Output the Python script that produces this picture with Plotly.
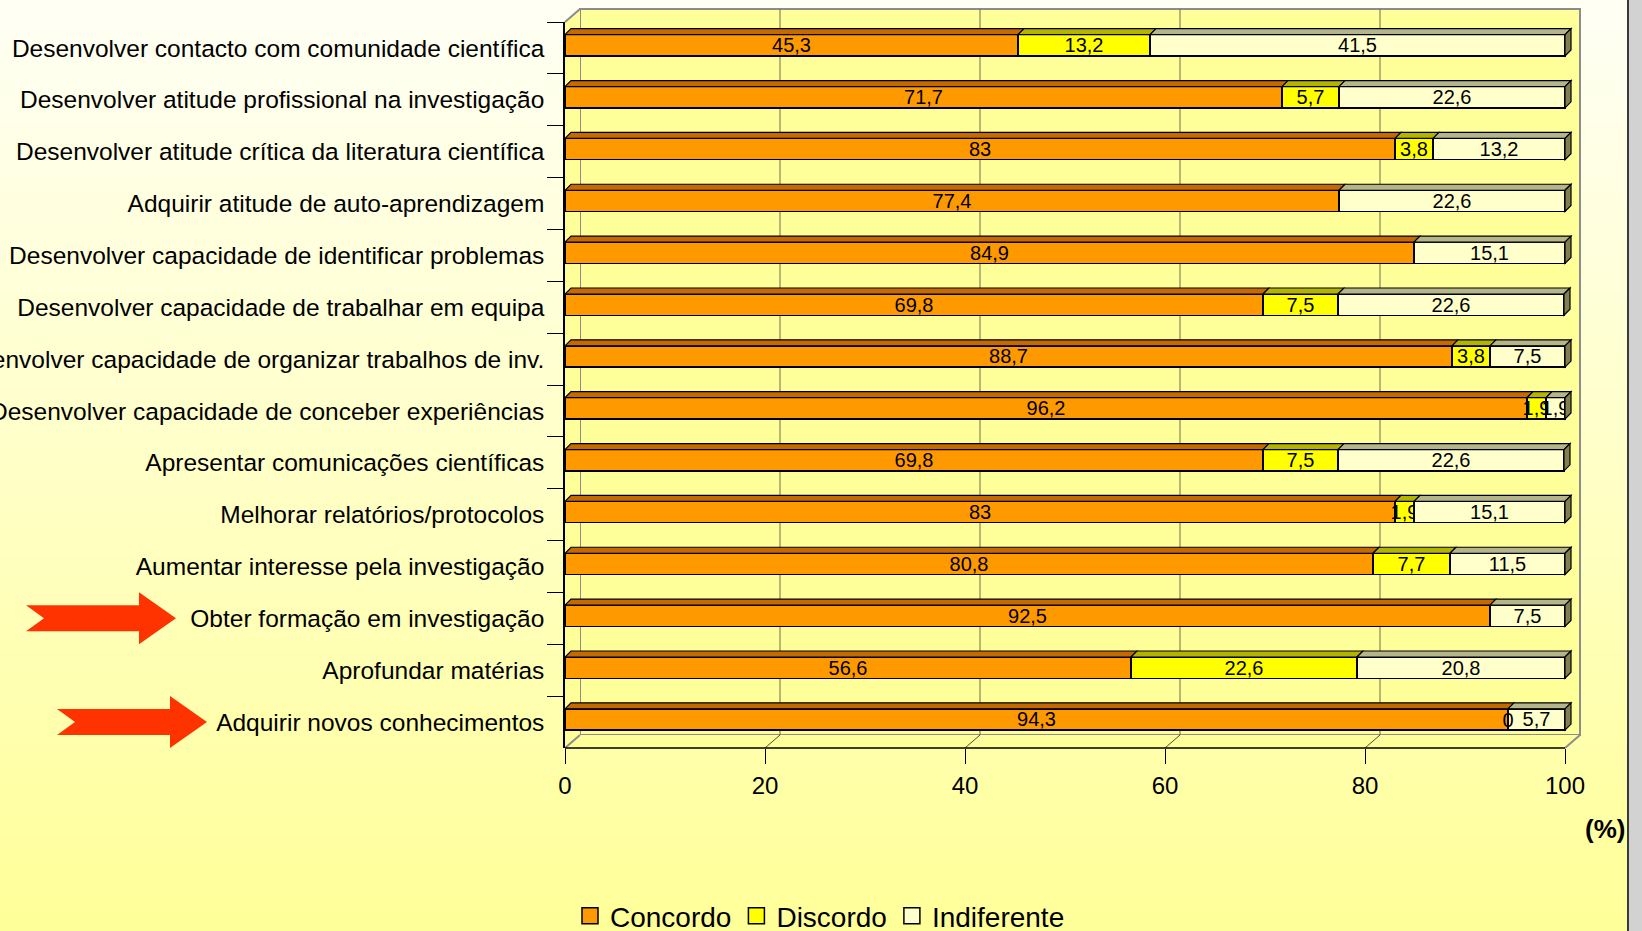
import plotly.graph_objects as go

# ---------------- data ----------------
categories = [
    "Desenvolver contacto com comunidade científica",
    "Desenvolver atitude profissional na investigação",
    "Desenvolver atitude crítica da literatura científica",
    "Adquirir atitude de auto-aprendizagem",
    "Desenvolver capacidade de identificar problemas",
    "Desenvolver capacidade de trabalhar em equipa",
    "Desenvolver capacidade de organizar trabalhos de inv.",
    "Desenvolver capacidade de conceber experiências",
    "Apresentar comunicações científicas",
    "Melhorar relatórios/protocolos",
    "Aumentar interesse pela investigação",
    "Obter formação em investigação",
    "Aprofundar matérias",
    "Adquirir novos conhecimentos",
]
concordo = [45.3, 71.7, 83, 77.4, 84.9, 69.8, 88.7, 96.2, 69.8, 83, 80.8, 92.5, 56.6, 94.3]
discordo = [13.2, 5.7, 3.8, None, None, 7.5, 3.8, 1.9, 7.5, 1.9, 7.7, None, 22.6, 0]
indiferente = [41.5, 22.6, 13.2, 22.6, 15.1, 22.6, 7.5, 1.9, 22.6, 15.1, 11.5, 7.5, 20.8, 5.7]
series_names = ["Concordo", "Discordo", "Indiferente"]
x_ticks = [0, 20, 40, 60, 80, 100]
highlighted = ["Obter formação em investigação", "Adquirir novos conhecimentos"]
axis_unit = "(%)"

# ---------------- style ----------------
FONT = "Liberation Sans, Arial, sans-serif"
front_colors = ["#FF9900", "#FFFF00", "#FFFFCC"]
top_colors = ["#C46A00", "#B3B300", "#B5B58C"]
side_colors = ["#8C4A00", "#808000", "#7F7F52"]

W, H = 1642, 931
ML, MR, MT, MB = 565, 67, 22, 183
PW, PH = W - ML - MR, H - MT - MB
BOTTOM = H - MB


def px(X):
    return (X - ML) / PW


def py(Y):
    return (BOTTOM - Y) / PH


def fmt(v):
    return "" if v is None else f"{v:g}".replace(".", ",")


BAR_W = 0.41
BAR_OFF = -0.255
DX = 0.6      # depth in x data units (6 px)
DY = 0.116    # depth in category units (6 px)

series = [concordo, discordo, indiferente]

fig = go.Figure()
for name, vals, col in zip(series_names, series, front_colors):
    fig.add_trace(go.Bar(
        y=categories, x=vals, orientation="h", name=name,
        marker=dict(color=col, line=dict(color="black", width=1.5)),
        width=BAR_W, offset=BAR_OFF, showlegend=False, legendgroup=name,
        text=[fmt(v) for v in vals], textposition="inside",
        insidetextanchor="middle", textangle=0, constraintext="none",
        textfont=dict(family=FONT, size=20, color="black"),
        hoverinfo="skip",
    ))

# labels of zero-width segments (plotly does not draw text for empty bars)
zx, zy, zt = [], [], []
for i, cat in enumerate(categories):
    base = 0.0
    for vals in series:
        v = vals[i]
        if v == 0 and v is not None:
            zx.append(base)
            zy.append(cat)
            zt.append(fmt(v))
        base += v or 0
fig.add_trace(go.Scatter(x=zx, y=zy, mode="text", text=zt, showlegend=False,
                         textposition="middle center", hoverinfo="skip",
                         textfont=dict(family=FONT, size=20, color="black")))

# legend entries (square swatches)
for name, col in zip(series_names, front_colors):
    fig.add_trace(go.Scatter(x=[None], y=[None], mode="markers", name=name,
                             legendgroup=name,
                             marker=dict(symbol="square", size=16, color=col,
                                         line=dict(color="black", width=1.5))))

shapes = []

# background gradient
N = 60
for k in range(N):
    y0 = H * k / N
    y1 = H * (k + 1) / N + 1
    t = (k + 0.5) / N
    b = int(round(245 - t * 92))
    shapes.append(dict(type="rect", xref="paper", yref="paper", layer="below",
                       x0=px(0), x1=px(1628), y0=py(y1), y1=py(y0 - 1),
                       fillcolor=f"rgb(255,255,{b})", line=dict(width=0)))
# right grey strip
shapes.append(dict(type="rect", xref="paper", yref="paper", layer="below",
                   x0=px(1628), x1=px(1650), y0=py(H + 2), y1=py(-2),
                   fillcolor="#D2D2D2", line=dict(color="#3A3A3A", width=2)))

# 3D walls
FX0, FX1, FY0, FY1 = ML, ML + 1000, MT, BOTTOM   # front plane
OX, OY = 15, 13                                   # depth offset (px)
shapes.append(dict(type="rect", xref="paper", yref="paper", layer="below",
                   x0=px(FX0 + OX), x1=px(FX1 + OX), y0=py(FY1 - OY), y1=py(FY0 - OY),
                   fillcolor="#FFFF99", line=dict(color="#8C8C8C", width=2)))
shapes.append(dict(type="path", xref="paper", yref="paper", layer="below",
                   path=f"M{px(FX0)},{py(FY0)} L{px(FX0+OX)},{py(FY0-OY)} L{px(FX0+OX)},{py(FY1-OY)} L{px(FX0)},{py(FY1)} Z",
                   fillcolor="#FFFF99", line=dict(width=0)))
shapes.append(dict(type="path", xref="paper", yref="paper", layer="below",
                   path=f"M{px(FX0)},{py(FY1)} L{px(FX0+OX)},{py(FY1-OY)} L{px(FX1+OX)},{py(FY1-OY)} L{px(FX1)},{py(FY1)} Z",
                   fillcolor="#FFFF99", line=dict(width=0)))
for (xa, ya) in [(FX0, FY0), (FX0, FY1), (FX1, FY1)]:
    shapes.append(dict(type="line", xref="paper", yref="paper", layer="below",
                       x0=px(xa), y0=py(ya), x1=px(xa + OX), y1=py(ya - OY),
                       line=dict(color="#8C8C8C", width=2)))
for v in x_ticks[1:-1]:
    X = FX0 + 10 * v
    shapes.append(dict(type="line", xref="paper", yref="paper", layer="below",
                       x0=px(X + OX), x1=px(X + OX), y0=py(FY1 - OY), y1=py(FY0 - OY),
                       line=dict(color="#6E6E4E", width=1)))
    shapes.append(dict(type="line", xref="paper", yref="paper", layer="below",
                       x0=px(X), y0=py(FY1), x1=px(X + OX), y1=py(FY1 - OY),
                       line=dict(color="#4A4A30", width=1)))

# front bottom axis line
shapes.append(dict(type="line", xref="x", yref="paper", layer="above",
                   x0=x_ticks[0], x1=x_ticks[-1], y0=0, y1=0,
                   line=dict(color="black", width=1.5)))

# 3D faces of bars (top faces + right end face), from the data
for i in range(len(categories)):
    base = 0.0
    last = None
    yt = i + BAR_OFF
    yb = i + BAR_OFF + BAR_W
    for s, vals in enumerate(series):
        v = vals[i]
        if not v:
            continue
        x0, x1 = base, base + v
        shapes.append(dict(type="path", xref="x", yref="y", layer="above",
                           path=f"M{x0},{yt} L{x0+DX},{yt-DY} L{x1+DX},{yt-DY} L{x1},{yt} Z",
                           fillcolor=top_colors[s], line=dict(color="black", width=1.2)))
        base = x1
        last = s
    if last is not None:
        shapes.append(dict(type="path", xref="x", yref="y", layer="above",
                           path=f"M{base},{yt} L{base+DX},{yt-DY} L{base+DX},{yb-DY} L{base},{yb} Z",
                           fillcolor=side_colors[last], line=dict(color="black", width=1.2)))

# red arrows pointing to highlighted categories
n = len(categories)
for cat, tail in zip(highlighted, [26, 57]):
    idx = categories.index(cat)
    yc = (n - 0.5 - idx) / n
    bh, hh = 13 / PH, 26 / PH
    notch, hb, tip = tail + 18, tail + 113, tail + 150
    path = (f"M{px(tail)},{yc+bh} L{px(hb)},{yc+bh} L{px(hb)},{yc+hh} L{px(tip)},{yc} "
            f"L{px(hb)},{yc-hh} L{px(hb)},{yc-bh} L{px(tail)},{yc-bh} L{px(notch)},{yc} Z")
    shapes.append(dict(type="path", xref="paper", yref="paper", layer="above",
                       path=path, fillcolor="#FF3300", line=dict(width=0)))

fig.update_layout(
    width=W, height=H,
    margin=dict(l=ML, r=MR, t=MT, b=MB, pad=0, autoexpand=False),
    barmode="stack",
    paper_bgcolor="#FFFFDD",
    plot_bgcolor="rgba(0,0,0,0)",
    font=dict(family=FONT, color="black"),
    shapes=shapes,
    showlegend=True,
    legend=dict(orientation="h", x=px(570), xanchor="left", y=py(916), yanchor="middle",
                bgcolor="rgba(0,0,0,0)", font=dict(family=FONT, size=28, color="black"),
                traceorder="normal", itemwidth=30),
    annotations=[dict(text=f"<b>{axis_unit}</b>", xref="paper", yref="paper",
                      x=px(1605), y=py(829), xanchor="center", yanchor="middle",
                      showarrow=False, font=dict(family=FONT, size=26, color="black"))],
)
fig.update_xaxes(range=[0, 101], tickvals=x_ticks, ticktext=[str(v) for v in x_ticks],
                 showgrid=False, zeroline=False, showline=False,
                 ticks="outside", ticklen=15, tickwidth=1.2, tickcolor="black",
                 tickfont=dict(family=FONT, size=24, color="black"),
                 ticklabelstandoff=1, automargin=False, fixedrange=True)
fig.update_yaxes(type="category", categoryorder="array", categoryarray=categories,
                 range=[n - 0.5, -0.5], showgrid=False, zeroline=False,
                 showline=True, linecolor="black", linewidth=1.5,
                 ticks="outside", tickson="boundaries", ticklen=16, tickwidth=1.2,
                 tickcolor="black", tickfont=dict(family=FONT, size=24.5, color="black"),
                 ticklabelstandoff=14, automargin=False, fixedrange=True)

fig.write_html("out.html", config={"displayModeBar": False},
               post_script="document.body.style.margin='0';document.body.style.overflow='hidden';")
